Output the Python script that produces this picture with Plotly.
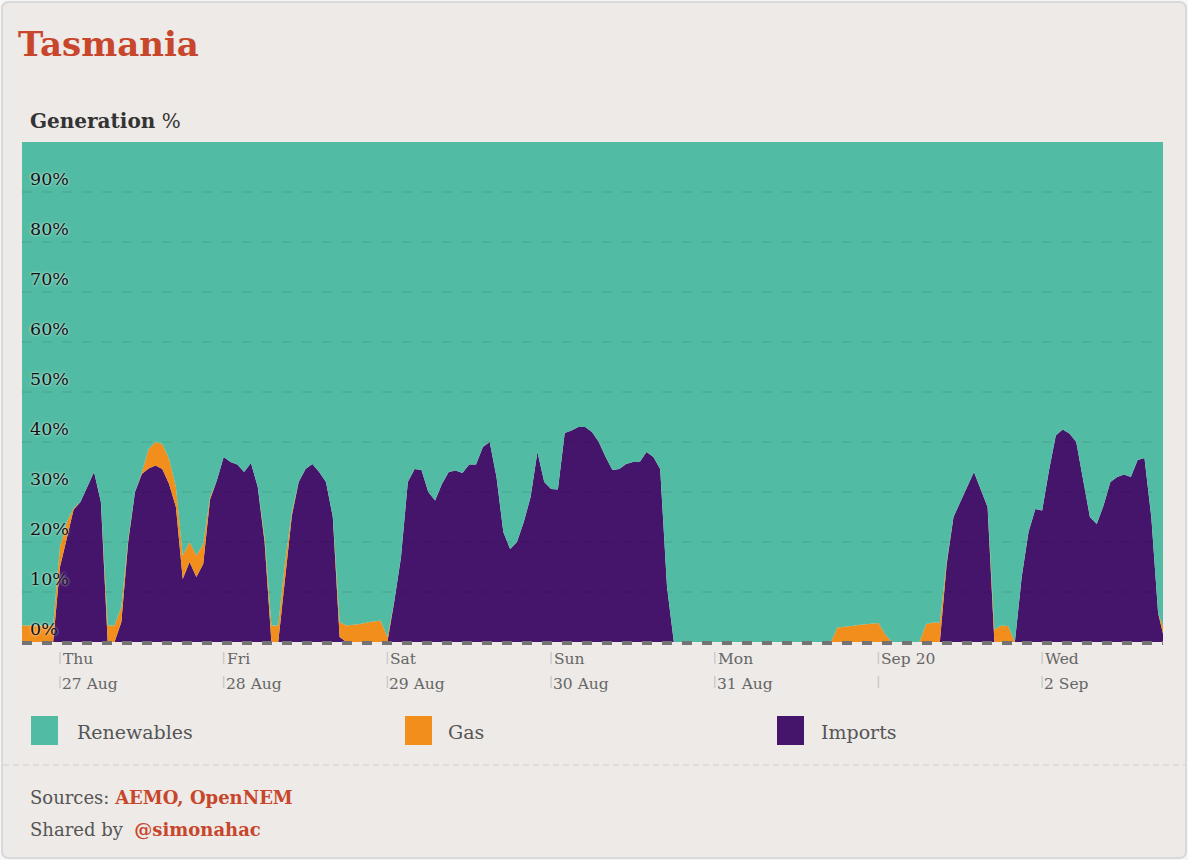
import plotly.graph_objects as go
import pandas as pd

# ---------------- data (hourly, % of generation) ----------------
start_time = "2020-08-26 18:00"
imports = [
    0, 0, 0, 0, 0, 0,
    15, 21, 26.5, 28, 31, 34, 28, 0, 0, 4, 20, 30, 33.6, 34.7, 35.3, 34.6, 31.6, 27, 12.6, 16, 13, 15.6, 28.5, 32.3,
    37, 36, 35.5, 34, 35.8, 31, 20, 0, 0, 12, 25.3, 32, 34.6, 35.6, 34, 32, 25, 1, 0, 0, 0, 0, 0, 0,
    0, 8, 17, 32, 34.6, 34.4, 30, 28.3, 31.6, 34, 34.3, 33.8, 35.5, 35.5, 39, 40, 33, 22, 18.6, 20, 24, 29, 38, 32,
    30.6, 30.5, 41.8, 42.3, 43, 43, 42, 40, 37, 34.4, 34.6, 35.6, 36, 36, 38, 37, 34.6, 11, 0, 0, 0, 0, 0, 0,
    0, 0, 0, 0, 0, 0, 0, 0, 0, 0, 0, 0, 0, 0, 0, 0, 0, 0, 0, 0, 0, 0, 0, 0,
    0, 0, 0, 0, 0, 0, 0, 0, 0, 0, 15.6, 25, 28, 31, 34, 30.5, 27, 0, 0, 0, 0, 13, 22, 26.6,
    26.3, 34.3, 41.3, 42.5, 41.7, 40, 32.6, 25, 23.6, 27.3, 32, 33, 33.5, 33, 36.4, 36.8, 25, 5.8, 0,
]
gas = [
    3.3, 3.3, 3.3, 3.3, 3.3, 3.3,
    4, 3, 0.3, 0, 0, 0, 0, 3.3, 3.3, 3, 0.5, 0, 0.3, 3.9, 4.7, 5, 5, 4, 4.7, 4, 4.3, 4, 0.5, 0,
    0, 0, 0, 0, 0, 0, 1, 3.3, 3.3, 4, 0.7, 0, 0, 0, 0, 0, 0, 3, 3.3, 3.4, 3.6, 3.9, 4.1, 4.3,
    1, 0, 0, 0, 0, 0, 0, 0, 0, 0, 0, 0, 0, 0, 0, 0, 0, 0, 0, 0, 0, 0, 0, 0,
    0, 0, 0, 0, 0, 0, 0, 0, 0, 0, 0, 0, 0, 0, 0, 0, 0, 0, 0, 0, 0, 0, 0, 0,
    0, 0, 0, 0, 0, 0, 0, 0, 0, 0, 0, 0, 0, 0, 0, 0, 0, 0, 2.9, 3, 3.2, 3.4, 3.5, 3.6,
    3.8, 1.5, 0, 0, 0, 0, 0, 3.6, 3.9, 3.9, 0.5, 0, 0, 0, 0, 0, 0, 2.5, 3.3, 3.2, 0, 0, 0, 0,
    0, 0, 0, 0, 0, 0, 0, 0, 0, 0, 0, 0, 0, 0, 0, 0, 0, 0, 2,
]
renewables = [round(100 - i - g, 2) for i, g in zip(imports, gas)]
times = pd.date_range(start_time, periods=len(imports), freq="h")

x_range = ["2020-08-26 18:26", "2020-09-02 17:43"]
tick_dates = ["2020-08-27", "2020-08-28", "2020-08-29", "2020-08-30",
              "2020-08-31", "2020-09-01", "2020-09-02"]
tick_line1 = ["Thu", "Fri", "Sat", "Sun", "Mon", "Sep 20", "Wed"]
tick_line2 = ["27 Aug", "28 Aug", "29 Aug", "30 Aug", "31 Aug", "", "2 Sep"]
y_ticks = [0, 10, 20, 30, 40, 50, 60, 70, 80, 90]
y_ticktext = [f"{v}%" for v in y_ticks]

series_names = ["Renewables", "Gas", "Imports"]
series_colors = ["#52bba3", "#f28e1c", "#45156c"]

# ---------------- layout helpers ----------------
W, H = 1188, 860
L, R, T, B = 22, 1163, 142, 642
def px(x):
    return (x - L) / (R - L)
def py(y):
    return (B - y) / (B - T)

FONT = "DejaVu Serif, Georgia, serif"
RED = "#c8462b"
GREY = "#555555"

fig = go.Figure()
fig.add_trace(go.Scatter(x=times, y=imports, name="Imports", stackgroup="one",
                         mode="lines", line=dict(width=0, color=series_colors[2]),
                         fillcolor=series_colors[2], showlegend=False))
fig.add_trace(go.Scatter(x=times, y=gas, name="Gas", stackgroup="one",
                         mode="lines", line=dict(width=0, color=series_colors[1]),
                         fillcolor=series_colors[1], showlegend=False))
fig.add_trace(go.Scatter(x=times, y=renewables, name="Renewables", stackgroup="one",
                         mode="lines", line=dict(width=0, color=series_colors[0]),
                         fillcolor=series_colors[0], showlegend=False))

shapes = []
# card
r = 7
x0, x1, y0, y1 = 2, 1186, 2, 858
path = (f"M {px(x0+r)},{py(y0)} L {px(x1-r)},{py(y0)} Q {px(x1)},{py(y0)} {px(x1)},{py(y0+r)} "
        f"L {px(x1)},{py(y1-r)} Q {px(x1)},{py(y1)} {px(x1-r)},{py(y1)} "
        f"L {px(x0+r)},{py(y1)} Q {px(x0)},{py(y1)} {px(x0)},{py(y1-r)} "
        f"L {px(x0)},{py(y0+r)} Q {px(x0)},{py(y0)} {px(x0+r)},{py(y0)} Z")
shapes.append(dict(type="path", path=path, xref="paper", yref="paper",
                   fillcolor="#edeae7", line=dict(color="#d9d9d9", width=2), layer="below"))
# gridlines
for v in y_ticks[1:]:
    shapes.append(dict(type="line", xref="paper", yref="y", x0=0, x1=1, y0=v, y1=v,
                       line=dict(color="rgba(0,0,0,0.07)", width=1.5, dash="10px,10px"),
                       layer="above"))
# zero line (paper-referenced so it is not clipped)
shapes.append(dict(type="line", xref="paper", yref="paper", x0=0, x1=1,
                   y0=py(643), y1=py(643),
                   line=dict(color="#737373", width=4, dash="10px,10px"), layer="above"))
# x tick marks
for d in tick_dates:
    for (a, b) in [(652, 664), (676, 688)]:
        shapes.append(dict(type="line", xref="x", yref="paper", x0=d, x1=d,
                           y0=py(a), y1=py(b), line=dict(color="#cccccc", width=1.5)))
# legend squares
legend_x = [31, 405, 777]
for xs, c in zip(legend_x, series_colors):
    shapes.append(dict(type="rect", xref="paper", yref="paper",
                       x0=px(xs), x1=px(xs + 27), y0=py(716), y1=py(745),
                       fillcolor=c, line=dict(width=0)))
# footer separator
shapes.append(dict(type="line", xref="paper", yref="paper", x0=px(3), x1=px(1185),
                   y0=py(765), y1=py(765),
                   line=dict(color="#cfcfcf", width=1.2, dash="6px,4px")))

ann = []
ann.append(dict(text="<b>Tasmania</b>", x=px(16), y=py(44), xref="paper", yref="paper",
                xanchor="left", yanchor="middle", showarrow=False,
                font=dict(family=FONT, size=34, color=RED)))
ann.append(dict(text="<b>Generation</b> %", x=px(28), y=py(121), xref="paper", yref="paper",
                xanchor="left", yanchor="middle", showarrow=False,
                font=dict(family=FONT, size=20, color="#333333")))
for d, t1, t2 in zip(tick_dates, tick_line1, tick_line2):
    ann.append(dict(text=t1, x=d, y=py(659), xref="x", yref="paper", xanchor="left",
                    yanchor="middle", xshift=1, showarrow=False,
                    font=dict(family=FONT, size=15.5, color="#666666")))
    if t2:
        ann.append(dict(text=t2, x=d, y=py(684), xref="x", yref="paper", xanchor="left",
                        yanchor="middle", showarrow=False,
                        font=dict(family=FONT, size=15.5, color="#666666")))
legend_tx = [75, 446, 819]
for xt, n in zip(legend_tx, series_names):
    ann.append(dict(text=n, x=px(xt), y=py(732), xref="paper", yref="paper",
                    xanchor="left", yanchor="middle", showarrow=False,
                    font=dict(family=FONT, size=19, color=GREY)))
ann.append(dict(text="Sources: <b><span style='color:%s'>AEMO, OpenNEM</span></b>" % RED,
                x=px(28), y=py(797), xref="paper", yref="paper", xanchor="left",
                yanchor="middle", showarrow=False, font=dict(family=FONT, size=18, color=GREY)))
ann.append(dict(text="Shared by  <b><span style='color:%s'>@simonahac</span></b>" % RED,
                x=px(28), y=py(829), xref="paper", yref="paper", xanchor="left",
                yanchor="middle", showarrow=False, font=dict(family=FONT, size=18, color=GREY)))

fig.update_layout(
    width=W, height=H, autosize=False,
    margin=dict(l=L, r=W - R, t=T, b=H - B, pad=0),
    paper_bgcolor="#f7f7f7", plot_bgcolor="#52bba3",
    shapes=shapes, annotations=ann, showlegend=False,
    xaxis=dict(type="date", range=x_range, showgrid=False, zeroline=False,
               showticklabels=False, ticks="", showline=False, fixedrange=True),
    yaxis=dict(range=[0, 100], tickvals=y_ticks, ticktext=y_ticktext,
               ticklabelposition="inside", ticklabelstandoff=5, ticklabelshift=-13,
               showgrid=False, zeroline=False, ticks="", showline=False,
               layer="above traces",
               tickfont=dict(family=FONT, size=17.5, color="#111111",
                             shadow="0px 0px 3px rgba(255,255,255,0.9)")),
)

fig.write_html("out.html")
